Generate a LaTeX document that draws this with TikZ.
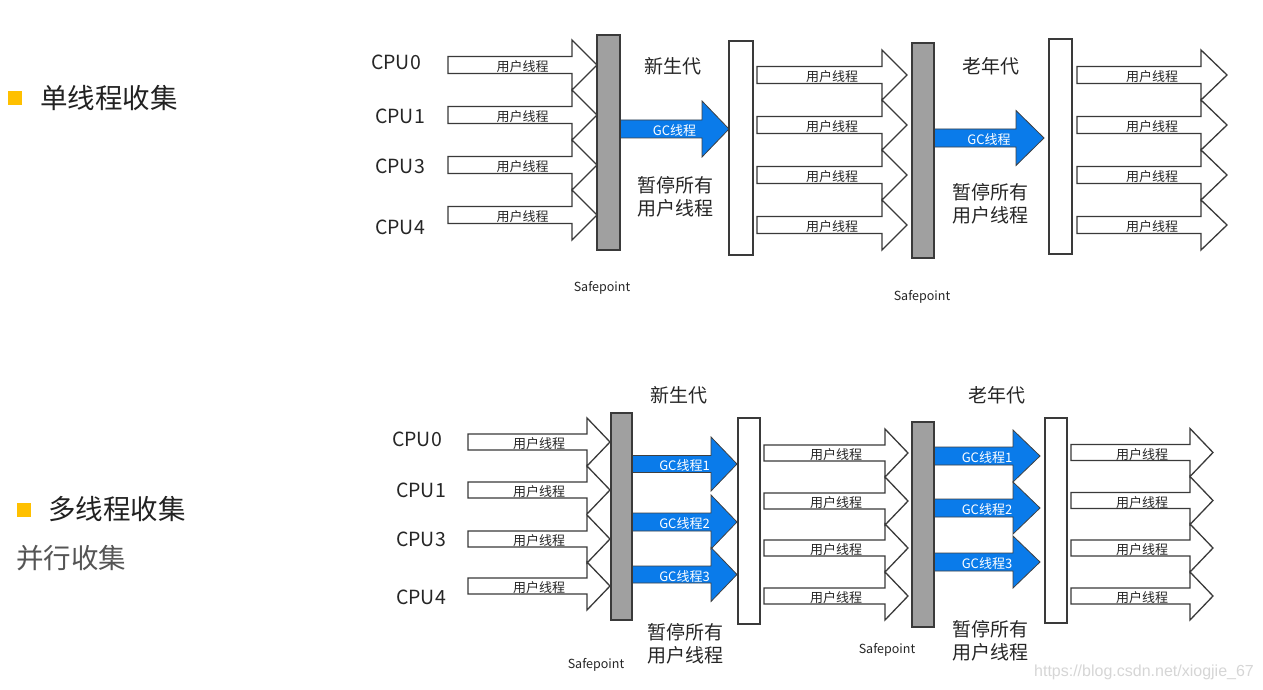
\documentclass[tikz,border=0pt]{standalone}
\usepackage{fontspec}
\setmainfont{Noto Sans CJK SC}
\newfontfamily\wmfont{Liberation Sans}
\definecolor{gcblue}{HTML}{0A7BEA}
\definecolor{bargray}{HTML}{A0A0A0}
\definecolor{edgec}{HTML}{3A3A3A}
\definecolor{tyellow}{HTML}{FFC000}
\definecolor{titlec}{HTML}{222222}
\definecolor{subc}{HTML}{555555}
\definecolor{wmc}{HTML}{D6D6D6}
\tikzset{
  userarrow/.style={draw=edgec, line width=1.3pt, fill=white, line join=miter},
  gcarrow/.style={draw=black!75, line width=0.8pt, fill=gcblue, line join=miter},
  barbase/.style={inner sep=0pt, outer sep=0pt, line width=1.4pt, draw=edgec},
  graybar/.style={barbase, fill=bargray},
  whitebar/.style={barbase, fill=white},
  ulabel/.style={inner sep=0pt, font=\fontsize{13}{14}\selectfont, text=black!85},
  gclabel/.style={inner sep=0pt, font=\fontsize{13}{14}\selectfont, text=white},
  cpulabel/.style={inner sep=0pt, font=\fontsize{19.5}{21}\selectfont, text=black!85},
  genlabel/.style={inner sep=0pt, font=\fontsize{19}{20}\selectfont, text=black!85},
  pauselabel/.style={inner sep=0pt, font=\fontsize{19}{23}\selectfont, text=black!85, align=center},
  safelabel/.style={inner sep=0pt, font=\fontsize{12.5}{13}\selectfont, text=black!85},
  titlelabel/.style={inner sep=0pt, anchor=west, font=\fontsize{27.5}{28}\selectfont, text=titlec},
  sublabel/.style={inner sep=0pt, anchor=west, font=\fontsize{27.5}{28}\selectfont, text=subc},
  bullet/.style={fill=tyellow, draw=none},
}
% #1 style, #2 x left, #3 y centre, #4 x head base, #5 x tip, #6 body half height, #7 head half height, #8 label style, #9 label
\newcommand\blockarrow[9]{%
  \draw[#1] (#2,#3-#6) -- (#4,#3-#6) -- (#4,#3-#7) -- (#5,#3) -- (#4,#3+#7)
     -- (#4,#3+#6) -- (#2,#3+#6) -- cycle;
  \node[#8] at ({(#2+#5)/2},#3+2) {#9};}
\begin{document}
\begin{tikzpicture}[x=1pt,y=-1pt]
\useasboundingbox[fill=white] (0,0) rectangle (1263,690);

% ---------- titles ----------
\fill[bullet] (8,91) rectangle (22,105);
\node[titlelabel] (t1) at (40,98) {单线程收集};
\fill[bullet] (17,503) rectangle (31,517);
\node[titlelabel] (t2) at (48,509) {多线程收集};
\node[sublabel] (t3) at (16,558) {并行收集};

% ---------- top diagram ----------
\foreach \y in {65,115,165,215}{
  \blockarrow{userarrow}{448}{\y}{572}{597}{8.5}{25}{ulabel}{用户线程}}
\blockarrow{gcarrow}{620}{129}{702}{729}{9}{28}{gclabel}{GC线程}
\foreach \y in {75,125,175,225}{
  \blockarrow{userarrow}{757}{\y}{882}{907}{8.5}{25}{ulabel}{用户线程}}
\blockarrow{gcarrow}{934}{138}{1016}{1044}{9}{27.5}{gclabel}{GC线程}
\foreach \y in {75,125,175,225}{
  \blockarrow{userarrow}{1077}{\y}{1201}{1227}{8.5}{25}{ulabel}{用户线程}}

\node[graybar, minimum width=23pt, minimum height=215pt] (g1) at (608.5,142.5) {};
\node[whitebar, minimum width=24pt, minimum height=214pt] (w1) at (741,148) {};
\node[graybar, minimum width=22pt, minimum height=215pt] (g2) at (923,150.5) {};
\node[whitebar, minimum width=23pt, minimum height=215pt] (w2) at (1060.5,146.5) {};

\node[cpulabel] (c0) at (396,62) {CPU0};
\node[cpulabel] (c1) at (400,116) {CPU1};
\node[cpulabel] (c3) at (400,166) {CPU3};
\node[cpulabel] (c4) at (400,227) {CPU4};
\node[genlabel] (n1) at (673,66) {新生代};
\node[genlabel] (o1) at (991,66) {老年代};
\node[pauselabel] (p1) at (675,197) {暂停所有\\用户线程};
\node[pauselabel] (p2) at (990,204) {暂停所有\\用户线程};
\node[safelabel] (s1) at (602,288) {Safepoint};
\node[safelabel] (s2) at (922,297) {Safepoint};

% ---------- bottom diagram ----------
\foreach \y in {442,490,539,586}{
  \blockarrow{userarrow}{468}{\y}{587}{610}{8}{24}{ulabel}{用户线程}}
\blockarrow{gcarrow}{632}{464}{711}{737}{8.5}{27}{gclabel}{GC线程1}
\blockarrow{gcarrow}{632}{522}{711}{737}{9}{27}{gclabel}{GC线程2}
\blockarrow{gcarrow}{632}{574.5}{711}{737}{8.5}{27}{gclabel}{GC线程3}
\foreach \y in {453,501,548,596}{
  \blockarrow{userarrow}{764}{\y}{885}{908}{8}{24}{ulabel}{用户线程}}
\blockarrow{gcarrow}{934}{456}{1013}{1040}{9}{26}{gclabel}{GC线程1}
\blockarrow{gcarrow}{934}{508}{1013}{1040}{9}{26}{gclabel}{GC线程2}
\blockarrow{gcarrow}{934}{562}{1013}{1040}{9}{26}{gclabel}{GC线程3}
\foreach \y in {452.5,500.5,548,596}{
  \blockarrow{userarrow}{1071}{\y}{1190}{1213}{8}{24}{ulabel}{用户线程}}

\node[graybar, minimum width=21pt, minimum height=207pt] (g3) at (621.5,516.5) {};
\node[whitebar, minimum width=22pt, minimum height=206pt] (w3) at (749,521) {};
\node[graybar, minimum width=22pt, minimum height=205pt] (g4) at (923,524.5) {};
\node[whitebar, minimum width=22pt, minimum height=205pt] (w4) at (1056,520.5) {};

\node[cpulabel] (d0) at (417,439) {CPU0};
\node[cpulabel] (d1) at (421,490) {CPU1};
\node[cpulabel] (d3) at (421,539) {CPU3};
\node[cpulabel] (d4) at (421,597) {CPU4};
\node[genlabel] (n2) at (679,395) {新生代};
\node[genlabel] (o2) at (997,395) {老年代};
\node[pauselabel] (p3) at (685,644) {暂停所有\\用户线程};
\node[pauselabel] (p4) at (990,641) {暂停所有\\用户线程};
\node[safelabel] (s3) at (596,665) {Safepoint};
\node[safelabel] (s4) at (887,650) {Safepoint};

\node[inner sep=0pt, font=\wmfont\fontsize{16}{17}\selectfont, text=wmc] (wm) at (1144,672) {https://blog.csdn.net/xiogjie\_67};
\end{tikzpicture}
\end{document}
